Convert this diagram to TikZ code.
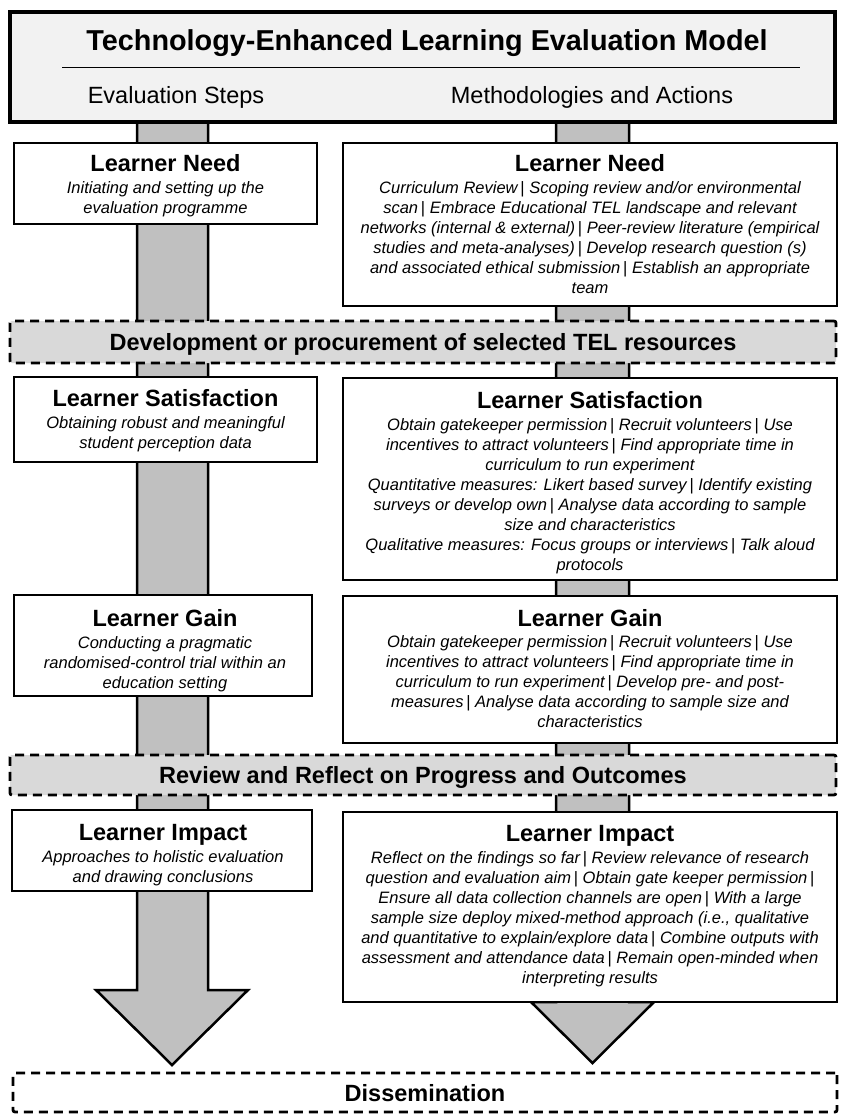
\documentclass[tikz,border=0pt]{standalone}
\usepackage{fontspec}
\setmainfont{Liberation Sans}
\definecolor{shaftgray}{RGB}{192,192,192}
\definecolor{bandgray}{RGB}{217,217,217}
\definecolor{headgray}{RGB}{242,242,242}
\newcommand\fst{\rule{0pt}{13pt}}
\newcommand\sep{\,{\upshape|}\ }
\begin{document}
\begin{tikzpicture}[x=1pt,y=-1pt,
  box/.style={draw, line width=2.6pt, fill=white, inner sep=0pt},
  band/.style={draw, line width=2.8pt, dash pattern=on 9pt off 6pt, rounded corners=2pt, inner sep=0pt},
  header/.style={draw, line width=4.5pt, fill=headgray, inner sep=0pt},
  ttl/.style={anchor=base, inner sep=0pt, font=\fontsize{23.5}{26}\selectfont\bfseries},
  sub/.style={anchor=base, inner sep=0pt, font=\fontsize{23.5}{26}\selectfont},
  body/.style={anchor=north, inner sep=0pt, align=center, font=\fontsize{16.5}{20}\selectfont\itshape},
  bigarrow/.style={draw, line width=2.5pt, fill=shaftgray, line join=miter}
]
\useasboundingbox (0,0) rectangle (842,1115);

% big arrows
\draw[bigarrow] (137,122) -- (137,990) -- (96,990) -- (172,1065) -- (248,990) -- (208,990) -- (208,122) -- cycle;
\draw[bigarrow] (556,122) -- (556,1002) -- (531,1002) -- (592.5,1063) -- (654,1002) -- (629,1002) -- (629,122) -- cycle;

% header
\node[header, minimum width=825pt, minimum height=110pt] (head) at (422.5,67) {};
\node[ttl, font=\fontsize{28.8}{32}\selectfont\bfseries] (headt) at (427,51) {Technology-Enhanced Learning Evaluation Model};
\coordinate (hl) at (62,68);
\coordinate (hr) at (800,68);
\draw[line width=1pt] (hl) -- (hr);
\node[sub] (steps) at (176,104) {Evaluation Steps};
\node[sub] (meth) at (592,104) {Methodologies and Actions};

% Learner Need
\node[box, minimum width=303pt, minimum height=81pt] (lnl) at (165.5,183.5) {};
\node[ttl] (lnlt) at (165.5,171.5) {Learner Need};
\node[body] (lnlb) at (165.5,180.5) {\fst Initiating and setting up the\\evaluation programme};

\node[box, minimum width=494pt, minimum height=163pt] (lnr) at (590,224.5) {};
\node[ttl] (lnrt) at (590,171.5) {Learner Need};
\node[body] (lnrb) at (590,180.5) {\fst Curriculum Review\sep Scoping review and/or environmental\\
scan\sep Embrace Educational TEL landscape and relevant\\
networks (internal \& external)\sep Peer-review literature (empirical\\
studies and meta-analyses)\sep Develop research question (s)\\
and associated ethical submission\sep Establish an appropriate\\
team};

% band 1
\node[band, fill=bandgray, minimum width=826pt, minimum height=42pt] (dev) at (423,342) {};
\node[ttl] (devt) at (423,350.5) {Development or procurement of selected TEL resources};

% Learner Satisfaction
\node[box, minimum width=303pt, minimum height=85pt] (lsl) at (165.5,419.5) {};
\node[ttl] (lslt) at (165.5,406.5) {Learner Satisfaction};
\node[body] (lslb) at (165.5,415.5) {\fst Obtaining robust and meaningful\\student perception data};

\node[box, minimum width=494pt, minimum height=202pt] (lsr) at (590,479) {};
\node[ttl] (lsrt) at (590,408.5) {Learner Satisfaction};
\node[body] (lsrb) at (590,417.5) {\fst Obtain gatekeeper permission\sep Recruit volunteers\sep Use\\
incentives to attract volunteers\sep Find appropriate time in\\
curriculum to run experiment\\
Quantitative measures: Likert based survey\sep Identify existing\\
surveys or develop own\sep Analyse data according to sample\\
size and characteristics\\
Qualitative measures: Focus groups or interviews\sep Talk aloud\\
protocols};

% Learner Gain
\node[box, minimum width=298pt, minimum height=101pt] (lgl) at (163,645.5) {};
\node[ttl] (lglt) at (165,626.5) {Learner Gain};
\node[body] (lglb) at (165,635.5) {\fst Conducting a pragmatic\\randomised-control trial within an\\education setting};

\node[box, minimum width=494pt, minimum height=147pt] (lgr) at (590,669.5) {};
\node[ttl] (lgrt) at (590,626.5) {Learner Gain};
\node[body] (lgrb) at (590,634.5) {\fst Obtain gatekeeper permission\sep Recruit volunteers\sep Use\\
incentives to attract volunteers\sep Find appropriate time in\\
curriculum to run experiment\sep Develop pre- and post-\\
measures\sep Analyse data according to sample size and\\
characteristics};

% band 2
\node[band, fill=bandgray, minimum width=826pt, minimum height=40pt] (rev) at (423,775) {};
\node[ttl] (revt) at (423,783.5) {Review and Reflect on Progress and Outcomes};

% Learner Impact
\node[box, minimum width=300pt, minimum height=81pt] (lil) at (162,850.5) {};
\node[ttl] (lilt) at (163,840.5) {Learner Impact};
\node[body] (lilb) at (163,849.5) {\fst Approaches to holistic evaluation\\and drawing conclusions};

\node[box, minimum width=494pt, minimum height=190pt] (lir) at (590,907) {};
\node[ttl] (lirt) at (590,841.5) {Learner Impact};
\node[body] (lirb) at (590,850.5) {\fst Reflect on the findings so far\sep Review relevance of research\\
question and evaluation aim\sep Obtain gate keeper permission\sep\\
Ensure all data collection channels are open\sep With a large\\
sample size deploy mixed-method approach (i.e., qualitative\\
and quantitative to explain/explore data\sep Combine outputs with\\
assessment and attendance data\sep Remain open-minded when\\
interpreting results};

% Dissemination
\node[band, minimum width=824pt, minimum height=39pt] (dis) at (425,1092.5) {};
\node[ttl] (dist) at (425,1101.5) {Dissemination};
\end{tikzpicture}
\end{document}
